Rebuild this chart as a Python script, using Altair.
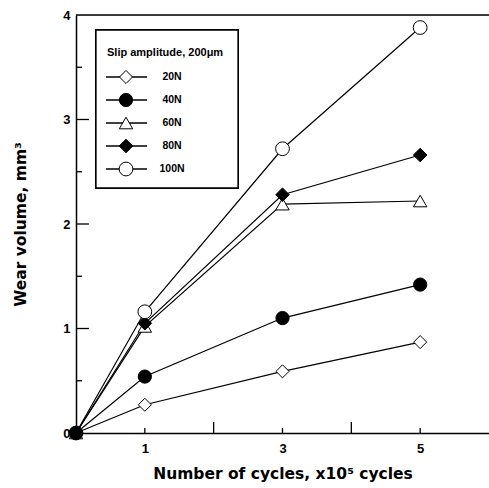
import altair as alt
import pandas as pd

cycles = [0, 1, 3, 5]
series = ["20N", "40N", "60N", "80N", "100N"]
wear = {
    "20N": [0.0, 0.27, 0.59, 0.87],
    "40N": [0.0, 0.54, 1.10, 1.42],
    "60N": [0.0, 1.02, 2.19, 2.22],
    "80N": [0.0, 1.05, 2.28, 2.66],
    "100N": [0.0, 1.16, 2.72, 3.88],
}
shapes = ["diamond", "circle", "triangle-up", "diamond", "circle"]
fills = ["white", "black", "white", "black", "white"]
sizes = [170, 190, 150, 170, 185]
legend_title = "Slip amplitude, 200\u03bcm"
x_title = "Number of cycles, x10\u2075 cycles"
y_title = "Wear volume, mm\u00b3"
y_major = [1, 2, 3]
y_minor = [0.5, 1.5, 2.5, 3.5]
x_major = [2, 4]
x_minor = [1, 3, 5]

draw_order = ["20N", "60N", "80N", "100N", "40N"]
rows = []
for z, s in enumerate(draw_order):
    for c, v in zip(cycles, wear[s]):
        rows.append({"series": s, "cycles": c, "wear": v, "z": z})
df = pd.DataFrame(rows)
leg = pd.DataFrame({"series": series, "idx": list(range(len(series)))})

W, H = 413, 418
FONT = "Liberation Sans"
TFONT = "DejaVu Sans"

xs = alt.Scale(domain=[0, 6], nice=False)
ys = alt.Scale(domain=[0, 4], nice=False)
shape_s = alt.Scale(domain=series, range=shapes)
fill_s = alt.Scale(domain=series, range=fills)
size_s = alt.Scale(domain=series, range=sizes)

xenc = alt.X("cycles:Q", scale=xs,
             axis=alt.Axis(values=[1, 3, 5], format="d", title=x_title, ticks=False, grid=False,
                           labelFont=FONT, labelFontSize=13, labelFontWeight="bold",
                           labelColor="black", labelPadding=9,
                           titleFont=TFONT, titleFontSize=15.5, titleFontWeight="bold",
                           titleColor="black", titlePadding=11,
                           domainColor="black", domainWidth=1.5))
yenc = alt.Y("wear:Q", scale=ys,
             axis=alt.Axis(values=[0, 1, 2, 3, 4], format="d", title=y_title, ticks=False, grid=False,
                           labelFont=FONT, labelFontSize=13, labelFontWeight="bold",
                           labelColor="black", labelPadding=6,
                           titleFont=TFONT, titleFontSize=15.5, titleFontWeight="bold",
                           titleColor="black", titlePadding=34,
                           domainColor="black", domainWidth=1.5))

lines = alt.Chart(df).mark_line(color="black", strokeWidth=1.2).encode(
    x=xenc, y=yenc, detail="series:N")
points = alt.Chart(df).mark_point(filled=True, stroke="black", strokeWidth=1, opacity=1).encode(
    x=alt.X("cycles:Q", scale=xs),
    y=alt.Y("wear:Q", scale=ys),
    shape=alt.Shape("series:N", scale=shape_s, legend=None),
    fill=alt.Fill("series:N", scale=fill_s, legend=None),
    size=alt.Size("series:N", scale=size_s, legend=None),
    order=alt.Order("z:Q"),
)
top_rule = alt.Chart(pd.DataFrame({"v": [4]})).mark_rule(color="black", strokeWidth=1.5).encode(
    y=alt.Y("v:Q", scale=ys), x=alt.value(0), x2=alt.value(W))

ymaj = alt.Chart(pd.DataFrame({"v": y_major})).mark_rule(color="black", strokeWidth=1.3).encode(
    y=alt.Y("v:Q", scale=ys), x=alt.value(0), x2=alt.value(13))
ymin = alt.Chart(pd.DataFrame({"v": y_minor})).mark_rule(color="black", strokeWidth=1.3).encode(
    y=alt.Y("v:Q", scale=ys), x=alt.value(0), x2=alt.value(6))
xmaj = alt.Chart(pd.DataFrame({"v": x_major})).mark_rule(color="black", strokeWidth=1.3).encode(
    x=alt.X("v:Q", scale=xs), y=alt.value(H), y2=alt.value(H - 11))
xmin = alt.Chart(pd.DataFrame({"v": x_minor})).mark_rule(color="black", strokeWidth=1.3).encode(
    x=alt.X("v:Q", scale=xs), y=alt.value(H), y2=alt.value(H - 5))

main = alt.layer(top_rule, ymaj, ymin, xmaj, xmin, lines, points)

ly = alt.Y("idx:Q", scale=alt.Scale(domain=[0, 4], range=[62, 154]), axis=None)
box = alt.Chart(leg).mark_rect(fill="white", stroke="black", strokeWidth=1.3).encode(
    x=alt.value(20), x2=alt.value(162), y=alt.value(15), y2=alt.value(173))
ltitle = alt.Chart(pd.DataFrame({"t": [legend_title]})).mark_text(
    align="left", baseline="middle", font=FONT, fontSize=11, fontWeight="bold", color="black").encode(
    x=alt.value(31), y=alt.value(38), text="t:N")
lrule = alt.Chart(leg).mark_rule(color="black", strokeWidth=1.3).encode(
    y=ly, x=alt.value(30), x2=alt.value(71))
lpts = alt.Chart(leg).mark_point(filled=True, stroke="black", strokeWidth=1, opacity=1).encode(
    y=ly, x=alt.value(50),
    shape=alt.Shape("series:N", scale=shape_s, legend=None),
    fill=alt.Fill("series:N", scale=fill_s, legend=None),
    size=alt.Size("series:N", scale=size_s, legend=None),
)
ltext = alt.Chart(leg).mark_text(align="center", baseline="middle", font=FONT, fontSize=10.5,
                                 fontWeight="bold", color="black").encode(
    y=ly, x=alt.value(96), text="series:N")
legend = alt.layer(box, ltitle, lrule, lpts, ltext)

chart = alt.layer(main, legend).resolve_scale(y="independent").properties(
    width=W, height=H,
    autosize=alt.AutoSizeParams(type="none"),
    padding={"left": 76, "top": 15, "right": 0, "bottom": 55},
).configure_view(stroke=None).configure(background="white")

chart.save("out.html", embed_options={"renderer": "svg", "actions": False})
